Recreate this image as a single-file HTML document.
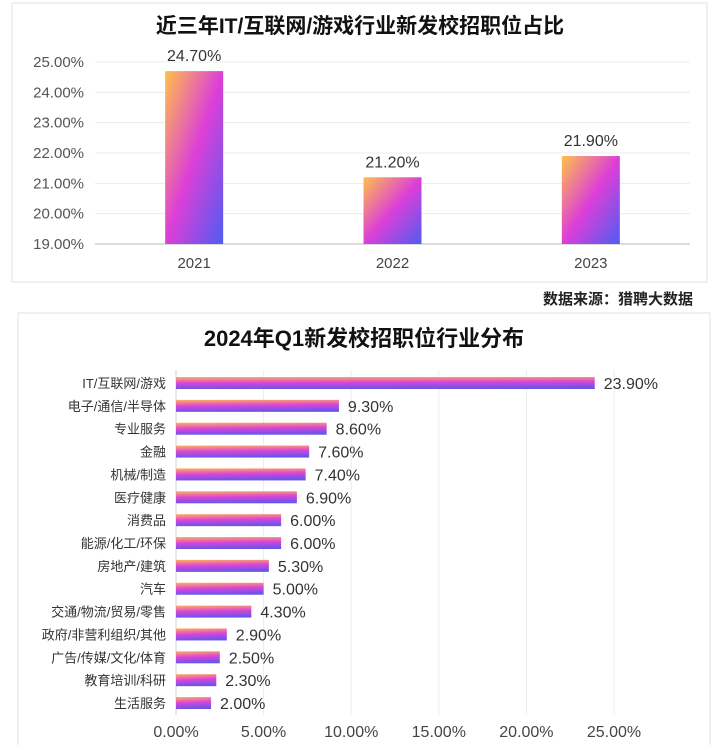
<!DOCTYPE html>
<html><head><meta charset="utf-8">
<style>
html,body{margin:0;padding:0;background:#fff;}
body{width:720px;height:745px;overflow:hidden;font-family:"Liberation Sans","Noto Sans CJK SC",sans-serif;}
svg text{font-family:"Liberation Sans","Noto Sans CJK SC",sans-serif;}
</style></head>
<body>
<svg id="s" width="720" height="745" viewBox="0 0 720 745" xmlns="http://www.w3.org/2000/svg">
<defs>
<linearGradient id="gv" x1="0" y1="0" x2="1" y2="1">
<stop offset="0" stop-color="#ffc04a"/><stop offset="0.5" stop-color="#dc3fd8"/><stop offset="1" stop-color="#4f5cf2"/>
</linearGradient>
<linearGradient id="gh" x1="0" y1="0" x2="0.15" y2="1">
<stop offset="0" stop-color="#ffb060"/><stop offset="0.5" stop-color="#dc45d6"/><stop offset="1" stop-color="#6a55ec"/>
</linearGradient>
</defs>
<rect x="12" y="3" width="695" height="279" fill="#fff" stroke="#e2e2e2"/>
<text x="360" y="33" text-anchor="middle" font-size="21" font-weight="bold" fill="#111">近三年IT/互联网/游戏行业新发校招职位占比</text>
<g id="topg"></g>
<text x="693" y="304" text-anchor="end" font-size="15" font-weight="bold" fill="#222">数据来源：猎聘大数据</text>
<rect x="18" y="313" width="692" height="440" fill="#fff" stroke="#e2e2e2"/>
<text x="364" y="346" text-anchor="middle" font-size="22" font-weight="bold" fill="#111">2024年Q1新发校招职位行业分布</text>
<g id="botg"></g>
</svg>
<script>
const years = ['2021','2022','2023'];
const yearValues = [24.7, 21.2, 21.9];
const yTicks = [19,20,21,22,23,24,25];
const industries = ['IT/互联网/游戏','电子/通信/半导体','专业服务','金融','机械/制造','医疗健康','消费品','能源/化工/环保','房地产/建筑','汽车','交通/物流/贸易/零售','政府/非营利组织/其他','广告/传媒/文化/体育','教育培训/科研','生活服务'];
const industryValues = [23.9,9.3,8.6,7.6,7.4,6.9,6.0,6.0,5.3,5.0,4.3,2.9,2.5,2.3,2.0];
const xTicks = [0,5,10,15,20,25];

const NS='http://www.w3.org/2000/svg';
function mk(tag,attrs,parent,txt){const e=document.createElementNS(NS,tag);for(const k in attrs)e.setAttribute(k,attrs[k]);if(txt!==undefined)e.textContent=txt;parent.appendChild(e);return e;}

// top chart
const topG=document.getElementById('topg');
const yS=v=>244-(v-19)*30.33;
const tL=95,tR=690,band=(tR-tL)/years.length;
const xC=i=>tL+band*(i+0.5);
yTicks.forEach(t=>{
  const l=mk('line',{x1:tL,x2:tR,y1:yS(t),y2:yS(t),stroke:t===19?'#d0d0d0':'#ececec','stroke-width':t===19?1.5:1},topG);
  
  
  const tx=mk('text',{x:84,y:yS(t)+5,'text-anchor':'end','font-size':15,fill:'#555'},topG,t.toFixed(2)+'%');
  
  
});
years.forEach((y,i)=>{
  const v=yearValues[i],bw=58;
  const r=mk('rect',{x:xC(i)-bw/2,y:yS(v),width:bw,height:yS(19)-yS(v),fill:'url(#gv)'},topG);
  
  
  const vl=mk('text',{x:xC(i),y:yS(v)-10,'text-anchor':'middle','font-size':16,fill:'#333'},topG,v.toFixed(2)+'%');
  
  
  const xl=mk('text',{x:xC(i),y:268,'text-anchor':'middle','font-size':15,fill:'#444'},topG,y);
  
  
});

// bottom chart
const botG=document.getElementById('botg');
const xS=v=>176+v*17.52;
const rowY=i=>383+i*22.86;
xTicks.forEach(t=>{
  const l=mk('line',{x1:xS(t),x2:xS(t),y1:370,y2:715,stroke:t===0?'#d0d0d0':'#ececec','stroke-width':1},botG);
  
  
  const tx=mk('text',{x:xS(t),y:737,'text-anchor':'middle','font-size':16,fill:'#444'},botG,t.toFixed(2)+'%');
  
  
});
industries.forEach((n,i)=>{
  const v=industryValues[i],cy=rowY(i);
  const lb=mk('text',{x:166,y:cy+5,'text-anchor':'end','font-size':13,fill:'#333'},botG,n);
  
  
  const r=mk('rect',{x:xS(0),y:cy-6,width:xS(v)-xS(0),height:12,fill:'url(#gh)'},botG);
  
  
  const vl=mk('text',{x:xS(v)+9,y:cy+6,'font-size':16,fill:'#333'},botG,v.toFixed(2)+'%');
  
  
});
</script>
</body></html>
